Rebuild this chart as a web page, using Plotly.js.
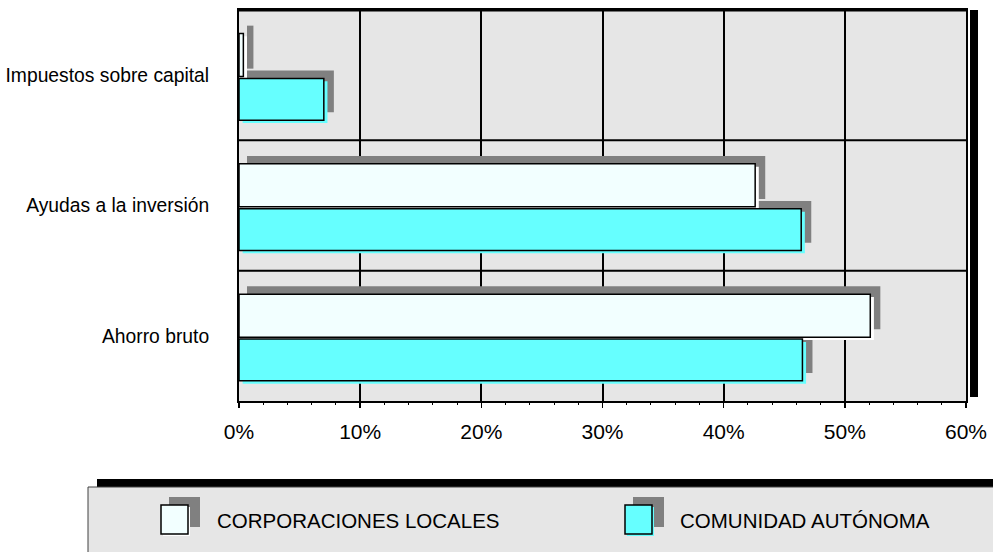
<!DOCTYPE html>
<html>
<head>
<meta charset="utf-8">
<script src="https://cdn.plot.ly/plotly-3.0.1.min.js"></script>
<style>
  html, body { margin: 0; padding: 0; background: #ffffff; }
  #chart { width: 993px; height: 552px; }
</style>
</head>
<body>
<div id="chart"></div>
<script>
// ---- data (bottom category first) ----
const categories = ['Ahorro bruto', 'Ayudas a la inversión', 'Impuestos sobre capital'];
const seriesNames = ['CORPORACIONES LOCALES', 'COMUNIDAD AUTÓNOMA'];
const corporacionesLocales = [52.1, 42.6, 0.36];
const comunidadAutonoma = [46.5, 46.4, 7.0];
const xTickVals = [0, 10, 20, 30, 40, 50, 60];
const xTickText = ['0%', '10%', '20%', '30%', '40%', '50%', '60%'];

// ---- styling ----
const W = 993, H = 552;
const M = { l: 239, r: 27, t: 10, b: 151 };
const plotW = W - M.l - M.r, plotH = H - M.t - M.b;
const px = x => (x - M.l) / plotW;          // page px -> paper x
const py = y => (H - M.b - y) / plotH;      // page px -> paper y

const fillCL = '#F2FFFF', fillCA = '#66FFFF', shadowCol = '#808080';
const barSpec = [
  { vals: corporacionesLocales, fill: fillCL, hi: '#FFFFFF', offset: -0.01, width: 0.33 },
  { vals: comunidadAutonoma,    fill: fillCA, hi: '#66FFFF', offset: -0.345, width: 0.32 }
];

const traces = [];
// shadows (shifted right and up)
barSpec.forEach(s => traces.push({
  type: 'bar', orientation: 'h', y: categories,
  x: s.vals.map(v => v + 0.17), base: 0.66,
  offset: s.offset + 0.06, width: s.width,
  marker: { color: shadowCol, line: { width: 0 } },
  hoverinfo: 'skip', showlegend: false
}));
// light highlights (shifted right and down)
barSpec.forEach(s => traces.push({
  type: 'bar', orientation: 'h', y: categories,
  x: s.vals, base: 0.3,
  offset: s.offset - 0.022, width: s.width,
  marker: { color: s.hi, line: { width: 0 } },
  hoverinfo: 'skip', showlegend: false
}));
// main bars
barSpec.forEach((s, i) => traces.push({
  type: 'bar', orientation: 'h', y: categories, x: s.vals,
  name: seriesNames[i],
  offset: s.offset, width: s.width,
  marker: { color: s.fill, line: { color: '#000000', width: 1.5 } },
  hoverinfo: 'skip', showlegend: false
}));

const shapes = [];
// category boundary gridlines
[0.5, 1.5].forEach(v => shapes.push({
  type: 'line', xref: 'paper', yref: 'y', x0: 0, x1: 1, y0: v, y1: v,
  line: { color: '#000000', width: 2 }, layer: 'between'
}));
// thick top border
shapes.push({ type: 'line', xref: 'paper', yref: 'paper', x0: 0, x1: 1, y0: 1, y1: 1,
  line: { color: '#000000', width: 3 }, layer: 'above' });
// thick right shadow bar of the frame
shapes.push({ type: 'rect', xref: 'paper', yref: 'paper',
  x0: px(970), x1: px(978), y0: py(397), y1: py(10),
  fillcolor: '#000000', line: { width: 0 }, layer: 'above' });

// legend box
shapes.push({ type: 'rect', xref: 'paper', yref: 'paper',
  x0: px(97), x1: px(1005), y0: py(487), y1: py(479),
  fillcolor: '#000000', line: { width: 0 }, layer: 'above' });
shapes.push({ type: 'rect', xref: 'paper', yref: 'paper',
  x0: px(88), x1: px(1005), y0: py(570), y1: py(487),
  fillcolor: '#E6E6E6', line: { color: '#404040', width: 1 }, layer: 'above' });

const annotations = [];
const legendItems = [
  { iconX: 161, textX: 215, fill: fillCL, hi: '#FFFFFF' },
  { iconX: 625, textX: 678, fill: fillCA, hi: '#66FFFF' }
];
legendItems.forEach((it, i) => {
  shapes.push({ type: 'rect', xref: 'paper', yref: 'paper',
    x0: px(it.iconX + 8), x1: px(it.iconX + 39), y0: py(527), y1: py(497),
    fillcolor: shadowCol, line: { width: 0 }, layer: 'above' });
  shapes.push({ type: 'rect', xref: 'paper', yref: 'paper',
    x0: px(it.iconX + 2), x1: px(it.iconX + 29), y0: py(536), y1: py(507),
    fillcolor: it.hi, line: { width: 0 }, layer: 'above' });
  shapes.push({ type: 'rect', xref: 'paper', yref: 'paper',
    x0: px(it.iconX), x1: px(it.iconX + 27), y0: py(534), y1: py(505),
    fillcolor: it.fill, line: { color: '#000000', width: 1.5 }, layer: 'above' });
  annotations.push({ xref: 'paper', yref: 'paper', x: px(it.textX), y: py(520),
    xanchor: 'left', yanchor: 'middle', showarrow: false, text: seriesNames[i],
    font: { family: 'Liberation Sans, Arial, sans-serif', size: 20.5, color: '#000000' } });
});

const layout = {
  width: W, height: H,
  margin: M,
  paper_bgcolor: '#FFFFFF', plot_bgcolor: '#E6E6E6',
  barmode: 'overlay',
  showlegend: false,
  font: { family: 'Liberation Sans, Arial, sans-serif', size: 19, color: '#000000' },
  xaxis: {
    range: [0, 60], tickvals: xTickVals, ticktext: xTickText,
    showgrid: true, gridcolor: '#000000', gridwidth: 2,
    zeroline: false,
    showline: true, linecolor: '#000000', linewidth: 2, mirror: true,
    ticks: 'outside', ticklen: 5, tickwidth: 1.5, tickcolor: '#000000',
    minor: { dtick: 2, ticks: 'outside', ticklen: 2, tickwidth: 1, tickcolor: '#000000', showgrid: false },
    ticklabelstandoff: 6,
    tickfont: { size: 21 },
    fixedrange: true
  },
  yaxis: {
    type: 'category', categoryorder: 'array', categoryarray: categories,
    range: [-0.5, 2.5],
    showgrid: false, zeroline: false,
    showline: true, linecolor: '#000000', linewidth: 2, mirror: true,
    ticks: '', ticklabelstandoff: 24,
    tickfont: { size: 19.3 },
    fixedrange: true
  },
  shapes: shapes,
  annotations: annotations
};

Plotly.newPlot('chart', traces, layout, { displayModeBar: false, staticPlot: true });
</script>
</body>
</html>
